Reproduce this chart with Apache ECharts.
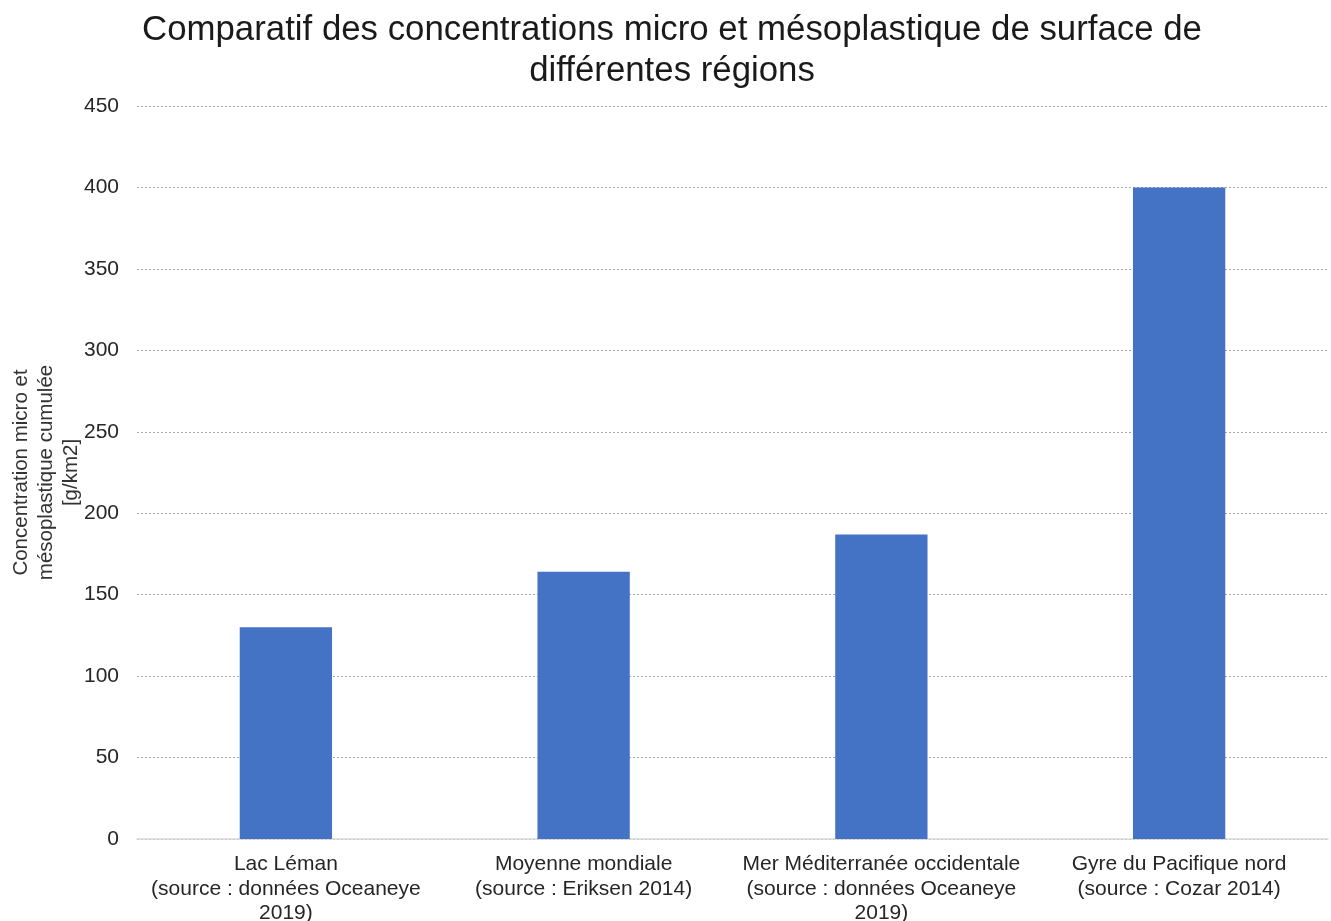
<!DOCTYPE html>
<html>
<head>
<meta charset="utf-8">
<script src="https://cdn.jsdelivr.net/npm/echarts@6/dist/echarts.min.js"></script>
<style>
html,body{margin:0;padding:0;background:#fff;}
#chart{width:1331px;height:921px;}
</style>
</head>
<body>
<div id="chart"></div>
<script>
const titleText = "Comparatif des concentrations micro et mésoplastique de surface de\ndifférentes régions";
const yAxisName = "Concentration micro et\nmésoplastique cumulée\n[g/km2]";
const categories = [
  "Lac Léman\n(source : données Oceaneye\n2019)",
  "Moyenne mondiale\n(source : Eriksen 2014)",
  "Mer Méditerranée occidentale\n(source : données Oceaneye\n2019)",
  "Gyre du Pacifique nord\n(source : Cozar 2014)"
];
const values = [130, 164, 187, 400];
const yMin = 0, yMax = 450, yStep = 50;

const chart = echarts.init(document.getElementById('chart'));
chart.setOption({
  backgroundColor: '#ffffff',
  animation: false,
  title: {
    text: titleText,
    left: 667,
    top: 5,
    textAlign: 'center',
    textStyle: {
      fontFamily: 'Liberation Sans, Arial, sans-serif',
      fontSize: 34.8,
      fontWeight: 'normal',
      color: '#1a1a1a',
      lineHeight: 41
    }
  },
  grid: { left: 137, right: 3, top: 106, bottom: 82, containLabel: false, outerBoundsMode: 'none' },
  xAxis: {
    type: 'category',
    data: categories,
    axisTick: { show: false },
    axisLine: { lineStyle: { color: '#d9d9d9', width: 1.5 } },
    axisLabel: {
      interval: 0,
      margin: 13,
      fontFamily: 'Liberation Sans, Arial, sans-serif',
      fontSize: 21,
      lineHeight: 24.5,
      color: '#262626',
      align: 'center'
    }
  },
  yAxis: {
    type: 'value',
    min: yMin,
    max: yMax,
    interval: yStep,
    name: yAxisName,
    nameLocation: 'middle',
    nameGap: 53,
    nameMoveOverlap: false,
    nameRotate: 90,
    nameTextStyle: {
      fontFamily: 'Liberation Sans, Arial, sans-serif',
      fontSize: 20.5,
      lineHeight: 25,
      color: '#333333',
      align: 'center'
    },
    axisLine: { show: false },
    axisTick: { show: false },
    axisLabel: {
      margin: 18,
      fontFamily: 'Liberation Sans, Arial, sans-serif',
      fontSize: 21,
      color: '#262626'
    },
    splitLine: {
      lineStyle: { color: '#a6a6a6', type: [2, 2], width: 1 }
    }
  },
  series: [{
    type: 'bar',
    data: values,
    barWidth: '31%',
    itemStyle: { color: '#4472C4' }
  }]
});
</script>
</body>
</html>
